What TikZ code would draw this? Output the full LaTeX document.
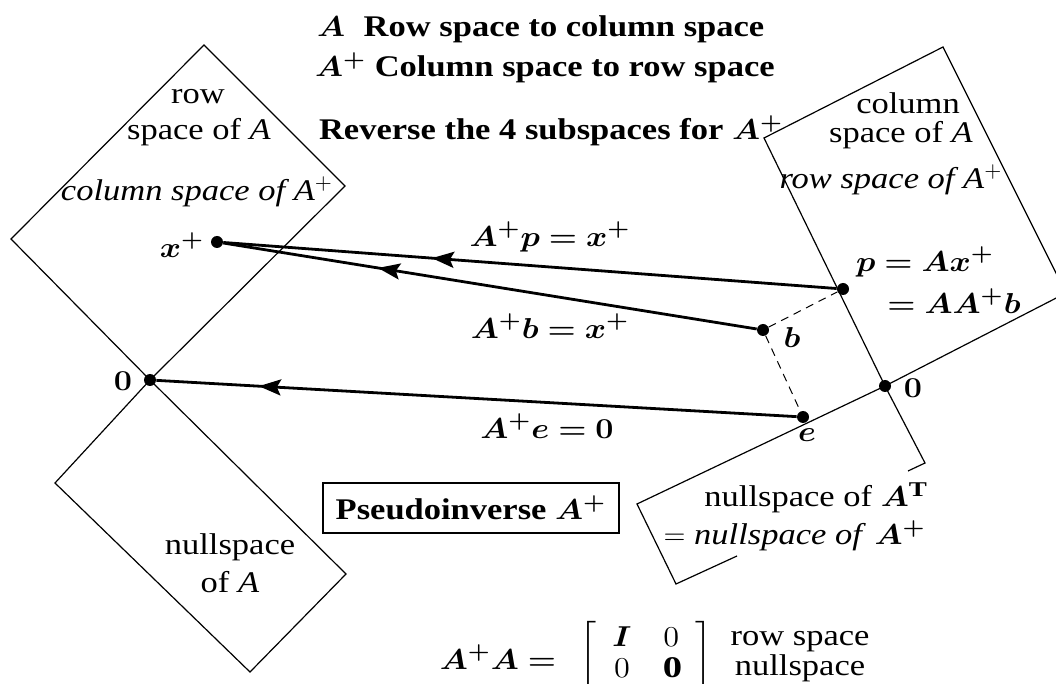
\documentclass[tikz,border=0pt]{standalone}
\usepackage{amsmath}
\usepackage{bm}
\usepackage{graphicx}
\usepackage{fontspec}
\setmainfont{Liberation Serif}[FakeStretch=1.15]
\usetikzlibrary{arrows.meta,decorations.markings}

\newcommand{\bmath}[1]{\scalebox{1.12}[1]{$\bm{#1}$}}

\tikzset{
  spot/.style={circle,fill,inner sep=0pt,minimum size=6pt},
  subspace/.style={line width=0.6pt,line join=miter},
  map/.style={line width=1.4pt,postaction={decorate}},
  midarrow/.style={decoration={markings,
      mark=at position #1 with {\arrow{Stealth[length=11pt,width=8pt,inset=2pt]}}}},
  proj/.style={line width=0.5pt,dash pattern=on 4pt off 3pt},
}

\begin{document}
\begin{tikzpicture}[x=0.5pt,y=-0.5pt,font=\fontsize{15}{19}\selectfont]
  \useasboundingbox (0,0) rectangle (1056,684);
  \clip (0,0) rectangle (1056,684);

  % the two origins
  \coordinate (O1) at (150,380);
  \coordinate (O2) at (885,386);

  % four subspaces
  \draw[subspace] (O1) -- (11,239) -- (204,45) -- (345,186) -- cycle;
  \draw[subspace] (O1) -- (55,483) -- (250,672) -- (346,574) -- cycle;
  \draw[subspace] (O2) -- (764,138) -- (943,47) -- (1066,293) -- cycle;
  \draw[subspace] (737,556) -- (676,584) -- (637,504) -- (O2) -- (925,463) -- (908,471);

  % points
  \node[spot] (xp) at (217,242) {};
  \node[spot] (zl) at (O1) {};
  \node[spot] (p) at (843,289) {};
  \node[spot] (b) at (763,330) {};
  \node[spot] (e) at (803,417) {};
  \node[spot] (zr) at (O2) {};

  % A^+ maps back to the row space
  \draw[map,midarrow=0.66] (p) -- (xp);
  \draw[map,midarrow=0.71] (b) -- (xp);
  \draw[map,midarrow=0.84] (e) -- (zl);
  \draw[proj] (b) -- (p);
  \draw[proj] (b) -- (e);

  % titles
  \node[anchor=base west] (t1) at (310,37) {\bfseries \bmath{A}\hspace{5pt} Row space to column space};
  \node[anchor=base west] (t2) at (308,77) {\bfseries \bmath{A^{+}} Column space to row space};
  \node[anchor=base west] (t3) at (312,140) {\bfseries Reverse the 4 subspaces for \bmath{A^{+}}};

  % subspace names
  \node (rs1) at (198,97) {row};
  \node (rs2) at (199,132) {space of \textit{A}};
  \node (rs3) at (197,192) {\textit{column space of A}$^{+}$};
  \node (cs1) at (908,103) {column};
  \node (cs2) at (901,135) {space of \textit{A}};
  \node (cs3) at (891,180) {\textit{row space of A}$^{+}$};
  \node[align=center] (ns) at (230,563) {nullspace\\of \textit{A}};
  \node[inner sep=1pt,align=right,anchor=east] (lns) at (928,517)
    {nullspace of \bmath{A^{\mathrm{T}}}\\$=$ \textit{nullspace of} \bmath{A^{+}}};

  % point labels
  \node (lxp) at (182,245) {\bmath{x^{+}}};
  \node (lzl) at (123,381) {\bmath{0}};
  \node (lp1) at (925,262) {\bmath{p = Ax^{+}}};
  \node (lp2) at (954,301) {\bmath{= AA^{+}b}};
  \node (lb) at (792,338) {\bmath{b}};
  \node (le) at (807,435) {\bmath{e}};
  \node (lzr) at (913,388) {\bmath{0}};

  % arrow labels
  \node (m1) at (550,237) {\bmath{A^{+}p = x^{+}}};
  \node (m2) at (550,326) {\bmath{A^{+}b = x^{+}}};
  \node (m3) at (547,426) {\bmath{A^{+}e = 0}};

  \node[draw,line width=0.6pt,minimum width=148pt,minimum height=25pt] (pinv) at (471,508)
    {\bfseries Pseudoinverse \bmath{A^{+}}};

  % A^+A
  \node (AA) at (498,657) {\bmath{A^{+}A =}};
  \node (mat) at (646,656)
    {\scalebox{1.12}[1]{$\setlength{\arraycolsep}{7pt}\renewcommand{\arraystretch}{0.8}\left[\begin{array}{cc}\bm{I} & 0\\ 0 & \mathbf{0}\end{array}\right]$}};
  \node[align=center,font=\fontsize{15}{15}\selectfont] (mlab) at (800,657) {row space\\nullspace};
\end{tikzpicture}
\end{document}
